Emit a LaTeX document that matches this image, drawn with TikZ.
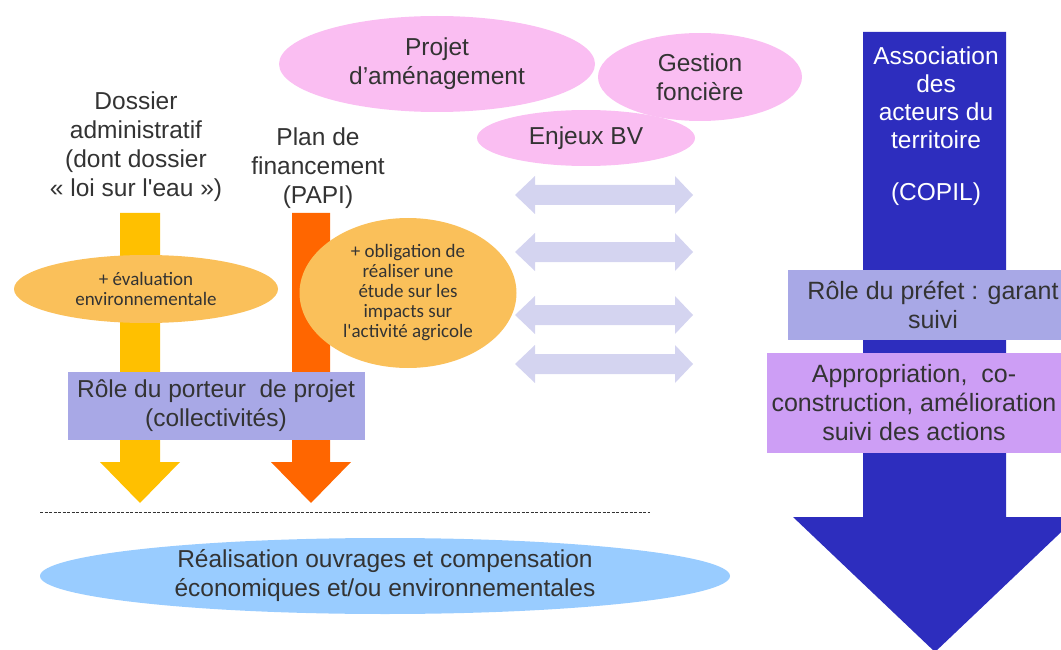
\documentclass[tikz,border=0pt]{standalone}
\usepackage{fontspec}
\setmainfont{Liberation Sans}
\newfontfamily\calibrifont{Carlito}
\usetikzlibrary{shapes.geometric}

\definecolor{txtgray}{RGB}{51,51,51}
\definecolor{goldarrow}{RGB}{255,192,0}
\definecolor{orangearrow}{RGB}{255,102,0}
\definecolor{sandfill}{RGB}{250,192,90}
\definecolor{lavbox}{RGB}{168,168,230}
\definecolor{mauvebox}{RGB}{205,158,245}
\definecolor{pinkfill}{RGB}{250,190,242}
\definecolor{bvarrow}{RGB}{212,212,240}
\definecolor{copilblue}{RGB}{45,45,190}
\definecolor{skyfill}{RGB}{153,204,255}

\tikzset{
  bigtxt/.style={align=center, text=txtgray, font=\fontsize{24.5}{29}\selectfont},
  righttxt/.style={align=center, text=txtgray, font=\fontsize{25}{29}\selectfont},
  smalltxt/.style={align=center, text=txtgray, font=\calibrifont\fontsize{19}{20}\selectfont},
  blob/.style={ellipse, inner sep=0pt},
  rolebox/.style={rectangle, inner sep=0pt},
}

\begin{document}
\begin{tikzpicture}[x=1pt,y=-1pt]
    \useasboundingbox (0,0) rectangle (1061,650);
    % grande fleche du COPIL
    \fill[copilblue] (863,32) -- (1006,32) -- (1006,517) -- (1077,517) -- (935,652) -- (793,517) -- (863,517) -- cycle;
    \node[righttxt, text=white, font=\fontsize{24.5}{28}\selectfont] (copil) at (936,126) {Association\\des\\acteurs du\\territoire\\[24pt](COPIL)};
    \node[rolebox, fill=lavbox, minimum width=290, minimum height=70, righttxt] (prefet) at (933,305) {R\^ole du pr\'efet : garant\\suivi};
    \node[rolebox, fill=mauvebox, minimum width=294, minimum height=100, righttxt] (appro) at (914,403) {Appropriation,\ \ co-\\construction, am\'elioration\\suivi des actions};
    % fleches dossier et financement
    \fill[goldarrow] (120,213) -- (160,213) -- (160,462) -- (180,462) -- (140,503) -- (100,462) -- (120,462) -- cycle;
    \fill[orangearrow] (292,213) -- (330,213) -- (330,462) -- (351,462) -- (311,503) -- (271,462) -- (292,462) -- cycle;
    \node[bigtxt] (dossier) at (136,147) {Dossier\\administratif\\(dont dossier\\\guillemotleft\ loi sur l\textquotesingle eau \guillemotright)};
    \node[bigtxt] (papi) at (318,168) {Plan de\\financement\\(PAPI)};
    \node[blob, fill=sandfill, minimum width=264, minimum height=68, smalltxt] (evalenv) at (146,289) {+ \'evaluation\\environnementale};
    \node[blob, fill=sandfill, minimum width=217, minimum height=150, smalltxt] (oblig) at (408,293) {+ obligation de\\r\'ealiser une\\\'etude sur les\\impacts sur\\l\textquotesingle activit\'e agricole};
    \node[rolebox, fill=lavbox, minimum width=297, minimum height=68, bigtxt] (porteur) at (216,406) {R\^ole du porteur\ \ de projet\\(collectivit\'es)};
    % bulles roses
    \node[blob, fill=pinkfill, minimum width=316, minimum height=96, bigtxt] (projet) at (437,64) {Projet\\d'am\'enagement};
    \node[blob, fill=pinkfill, minimum width=204, minimum height=88, bigtxt] (fonciere) at (700,77) {Gestion\\fonci\`ere};
    \node[blob, fill=pinkfill, minimum width=218, minimum height=56, bigtxt] (enjeux) at (586,138) {Enjeux BV};
    % echanges
    \foreach \yy in {195,252,315,364}
    \fill[bvarrow] (515,\yy) -- (535,\yy-19) -- (535,\yy-10) -- (675,\yy-10) -- (675,\yy-19) -- (693,\yy) -- (675,\yy+19) -- (675,\yy+10) -- (535,\yy+10) -- (535,\yy+19) -- cycle;
    \draw[txtgray, dash pattern=on 3pt off 1.5pt] (40,512) -- (650,512);
    \node[blob, fill=skyfill, minimum width=690, minimum height=76, bigtxt] (realisation) at (385,576) {R\'ealisation ouvrages et compensation\\\'economiques et/ou environnementales};
\end{tikzpicture}
\end{document}
